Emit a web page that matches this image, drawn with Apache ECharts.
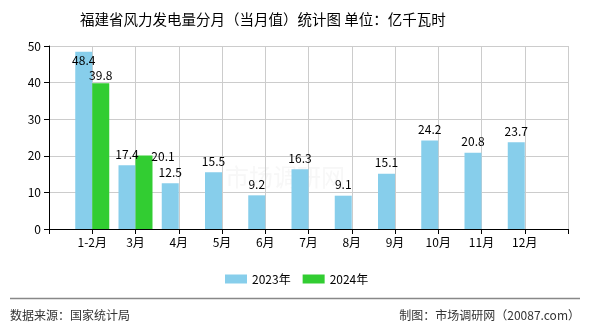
<!DOCTYPE html>
<html>
<head>
<meta charset="utf-8">
<script src="https://cdn.jsdelivr.net/npm/echarts@6/dist/echarts.min.js"></script>
<style>
  html, body { margin: 0; padding: 0; background: #fff; }
  #chart { width: 590px; height: 330px; }
</style>
</head>
<body>
<div id="chart"></div>
<script>
// Monthly wind power output, Fujian (100 million kWh)
const months = ['', '1-2月', '3月', '4月', '5月', '6月', '7月', '8月', '9月', '10月', '11月', '12月', ''];
const values2023 = [48.4, 17.4, 12.5, 15.5, 9.2, 16.3, 9.1, 15.1, 24.2, 20.8, 23.7];
const values2024 = [39.8, 20.1];
const yTicks = [0, 10, 20, 30, 40, 50];

const FONT = '"Noto Sans CJK SC", "Noto Sans", sans-serif';

// per-label tweaks so labels don't crowd the plot edge or each other
const labelTweaks2023 = { 0: { position: 'insideTop', distance: 3 } };
const labelTweaks2024 = { 0: { distance: 2 }, 1: { offset: [19, 12] } };

function buildSeriesData(vals, tweaks) {
  const out = ['-'];
  for (let i = 0; i < months.length - 2; i++) {
    if (i < vals.length) {
      const item = { value: vals[i] };
      if (tweaks[i]) item.label = tweaks[i];
      out.push(item);
    } else {
      out.push('-');
    }
  }
  out.push('-');
  return out;
}

const chart = echarts.init(document.getElementById('chart'), null, { renderer: 'canvas' });

const labelStyle = {
  show: true,
  position: 'top',
  distance: 5,
  color: '#000',
  fontSize: 12,
  fontFamily: FONT
};

chart.setOption({
  animation: false,
  backgroundColor: '#fff',
  title: {
    text: '福建省风力发电量分月（当月值）统计图 单位：亿千瓦时',
    left: 75,
    top: 7,
    textStyle: { fontSize: 14.5, fontWeight: 'normal', color: '#000', fontFamily: FONT }
  },
  legend: {
    left: 220,
    top: 268,
    itemWidth: 22,
    itemHeight: 9,
    itemGap: 12,
    icon: 'rect',
    textStyle: { fontSize: 12, color: '#000', fontFamily: FONT },
    data: ['2023年', '2024年']
  },
  grid: { left: 49, right: 22, top: 46, bottom: 101, containLabel: false },
  xAxis: {
    type: 'category',
    data: months,
    boundaryGap: false,
    axisLine: { lineStyle: { color: '#000', width: 1 } },
    axisTick: { show: true, length: 5, lineStyle: { color: '#000' } },
    axisLabel: { color: '#000', fontSize: 12, fontFamily: FONT, margin: 7 },
    splitLine: { show: true, lineStyle: { color: '#ccc', width: 1 } }
  },
  yAxis: {
    type: 'value',
    min: yTicks[0],
    max: yTicks[yTicks.length - 1],
    interval: 10,
    axisLine: { show: true, lineStyle: { color: '#000', width: 1 } },
    axisTick: { show: true, length: 5, lineStyle: { color: '#000' } },
    axisLabel: { color: '#000', fontSize: 12, fontFamily: FONT, margin: 8 },
    splitLine: { show: true, lineStyle: { color: '#ccc', width: 1 } }
  },
  series: [
    {
      name: '2023年',
      type: 'bar',
      barWidth: 17,
      barGap: '0%',
      itemStyle: { color: '#87CEEB' },
      label: labelStyle,
      data: buildSeriesData(values2023, labelTweaks2023)
    },
    {
      name: '2024年',
      type: 'bar',
      barWidth: 17,
      barGap: '0%',
      itemStyle: { color: '#32CD32' },
      label: labelStyle,
      data: buildSeriesData(values2024, labelTweaks2024)
    }
  ],
  graphic: [
    {
      type: 'text',
      left: 225,
      top: 165,
      silent: true,
      style: { text: '市场调研网', fontSize: 24, fontFamily: FONT, fill: 'rgba(200,200,200,0.14)' }
    },
    {
      type: 'line',
      silent: true,
      shape: { x1: 10, y1: 298.5, x2: 580, y2: 298.5 },
      style: { stroke: '#888', lineWidth: 1.5 }
    },
    {
      type: 'text',
      left: 10,
      top: 309,
      style: { text: '数据来源：国家统计局', fontSize: 12, fontFamily: FONT, fill: '#333' }
    },
    {
      type: 'text',
      right: 10,
      top: 309,
      style: { text: '制图：市场调研网（20087.com）', fontSize: 12, fontFamily: FONT, fill: '#333' }
    }
  ]
});
</script>
</body>
</html>
